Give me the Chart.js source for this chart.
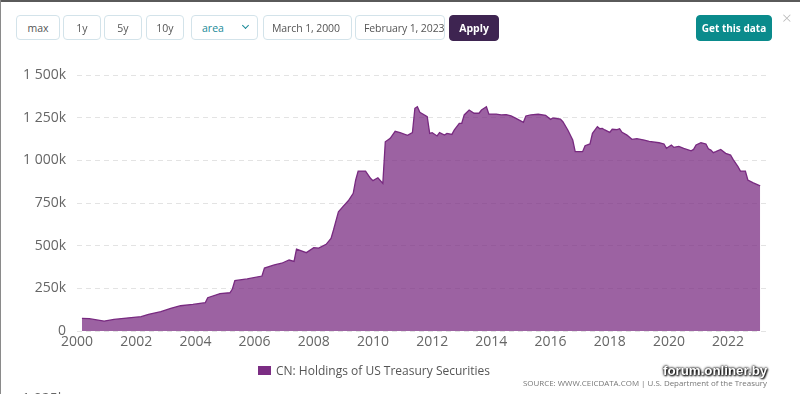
<!DOCTYPE html>
<html>
<head>
<meta charset="utf-8">
<script src="https://cdn.jsdelivr.net/npm/chart.js@4/dist/chart.umd.min.js"></script>
<style>
  html, body { margin: 0; padding: 0; }
  body { width: 800px; height: 394px; overflow: hidden; position: relative; background: #fff; font-family: "Open Sans", sans-serif; }
  #frameTop { position: absolute; left: 0; top: 0; width: 800px; height: 2px; background: #5a5a5a; }
  #frameLeft { position: absolute; left: 0; top: 0; width: 1px; height: 394px; background: #8a8a8a; }
  .btn { position: absolute; top: 15px; height: 25px; box-sizing: border-box; border: 1px solid #d3e3ea; border-radius: 4px; background: #fff;
         font-size: 10.5px; color: #555; display: flex; align-items: center; justify-content: center; white-space: nowrap; overflow: hidden; }
  .inp { justify-content: flex-start; padding-left: 8px; letter-spacing: -0.1px; }
  #apply { background: #3e2451; border-color: #3e2451; color: #fff; font-weight: bold; }
  #getdata { background: #0a8b8c; border-color: #0a8b8c; color: #fff; font-weight: bold; top: 15px; height: 26px; font-size: 10px; }
  #sel { justify-content: flex-start; padding-left: 10px; color: #1a8a98; overflow: visible; }
  #chev { position: absolute; right: 9px; top: 7px; width: 4px; height: 4px; border-right: 1.6px solid #1a8a98; border-bottom: 1.6px solid #1a8a98; transform: rotate(45deg); }
  #close { position: absolute; left: 782px; top: 6px; font-size: 17px; color: #b5b5b5; font-weight: 300; }
  #c { position: absolute; left: 0; top: 0; }
  #legend { position: absolute; left: 258px; top: 362px; display: flex; align-items: center; font-size: 12px; color: #555; }
  #legend span.box { width: 13px; height: 9px; background: rgb(123,45,131); margin-right: 5px; display: inline-block; }
  #source { position: absolute; left: 523px; top: 378px; font-size: 7.95px; color: #777; white-space: nowrap; }
  #wm { position: absolute; left: 663px; top: 363px; font-family: "Liberation Sans", Arial, sans-serif; font-weight: bold; font-size: 13.3px; color: #fff;
        text-shadow: 0 0 2px #000, 0 0 3px #000, 1px 1px 2px #000; white-space: nowrap; }
  #cut { position: absolute; left: 22px; top: 388px; font-size: 14px; color: #666; }
</style>
</head>
<body>
<canvas id="c" width="800" height="394"></canvas>
<div id="frameTop"></div>
<div id="frameLeft"></div>
<div class="btn" style="left:16px;width:44px;">max</div>
<div class="btn" style="left:63px;width:38px;">1y</div>
<div class="btn" style="left:104px;width:38px;">5y</div>
<div class="btn" style="left:146px;width:38px;">10y</div>
<div class="btn" id="sel" style="left:191px;width:67px;">area<div id="chev"></div></div>
<div class="btn inp" style="left:263px;width:89px;">March 1, 2000</div>
<div class="btn inp" style="left:355px;width:90px;">February 1, 2023</div>
<div class="btn" id="apply" style="left:449px;width:50px;height:26px;">Apply</div>
<div class="btn" id="getdata" style="left:696px;width:76px;">Get this data</div>
<div id="close">×</div>
<div id="legend"><span class="box"></span>CN: Holdings of US Treasury Securities</div>
<div id="wm">forum.onliner.by</div>
<div id="source">SOURCE: WWW.CEICDATA.COM | U.S. Department of the Treasury</div>
<div id="cut">1 025k</div>
<script>
const dates = [
  "2000-03","2000-06","2000-12","2001-04","2001-09","2002-03","2002-06","2002-11","2003-03","2003-07","2003-12",
  "2004-05","2004-06","2004-11","2005-03","2005-04","2005-05","2005-10","2006-04","2006-05","2006-09","2006-12",
  "2007-03","2007-05","2007-06","2007-10","2008-01","2008-03","2008-06","2008-08","2008-09","2008-11","2009-01",
  "2009-03","2009-05","2009-06","2009-07","2009-10","2009-12","2010-01","2010-03","2010-05","2010-06","2010-08",
  "2010-10","2010-12","2011-03","2011-05","2011-06","2011-07","2011-08","2011-11","2011-12","2012-01","2012-03",
  "2012-04","2012-06","2012-07","2012-09","2012-10","2012-12","2013-01","2013-02","2013-04","2013-06","2013-08",
  "2013-09","2013-11","2013-12","2014-03","2014-05","2014-07","2014-09","2014-11","2015-02","2015-03","2015-05",
  "2015-08","2015-11","2016-01","2016-02","2016-05","2016-06","2016-08","2016-10","2016-11","2016-12","2017-02",
  "2017-03","2017-05","2017-06","2017-08","2017-09","2017-10","2017-11","2018-01","2018-02","2018-04","2018-05",
  "2018-06","2018-08","2018-10","2018-12","2019-03","2019-05","2019-09","2019-11","2019-12","2020-02","2020-03",
  "2020-05","2020-07","2020-10","2020-11","2020-12","2021-02","2021-04","2021-05","2021-06","2021-07","2021-08",
  "2021-10","2021-12","2022-02","2022-03","2022-05","2022-06","2022-08","2022-09","2022-11","2023-02"
];
const holdings = [
  74,72,58,68,76,84,98,113,133,148,156,
  166,195,219,224,246,295,305,322,369,387,397,
  416,408,480,459,488,486,508,543,592,699,732,
  763,807,885,937,937,895,881,898,865,1109,1129,
  1170,1162,1147,1162,1305,1314,1281,1256,1158,1162,1143,
  1162,1148,1158,1152,1178,1217,1217,1266,1295,1276,1276,
  1295,1314,1271,1271,1266,1268,1260,1246,1223,1260,1266,
  1270,1264,1240,1248,1242,1226,1178,1119,1051,1051,1051,
  1086,1096,1158,1197,1185,1187,1178,1164,1182,1180,1185,
  1164,1148,1123,1127,1119,1111,1103,1096,1070,1090,1076,
  1082,1070,1056,1064,1090,1103,1096,1068,1060,1045,1051,
  1064,1041,1031,1006,963,937,937,885,869,850
];
const xTickYears = [2000,2002,2004,2006,2008,2010,2012,2014,2016,2018,2020,2022];
const yTickValues = [0,250000,500000,750000,1000000,1250000,1500000];
const seriesName = "CN: Holdings of US Treasury Securities";

function toYear(s) { const p = s.split("-"); return +p[0] + (+p[1] - 1) / 12; }
const points = dates.map((d, i) => ({ x: toYear(d), y: holdings[i] * 1000 }));

function fmt(v) {
  if (v === 0) return "0";
  const k = Math.round(v / 1000);
  return String(k).replace(/\B(?=(\d{3})+(?!\d))/g, " ") + "k";
}

new Chart(document.getElementById("c"), {
  type: "line",
  data: {
    datasets: [{
      label: seriesName,
      data: points,
      borderColor: "rgb(120,42,128)",
      backgroundColor: "rgba(123,45,131,0.75)",
      borderWidth: 1.3,
      pointRadius: 0,
      fill: "origin",
      tension: 0
    }]
  },
  options: {
    responsive: false,
    animation: false,
    layout: { padding: { top: 75, right: 34, bottom: 43, left: 0 } },
    plugins: { legend: { display: false }, tooltip: { enabled: false } },
    scales: {
      x: {
        type: "linear",
        min: 2000,
        max: 2023.28,
        grid: { display: false, drawTicks: false },
        border: { display: false },
        afterBuildTicks: s => { s.ticks = xTickYears.map(v => ({ value: v })); },
        afterFit: s => { s.height = 20; },
        ticks: { padding: 3, color: "#666", font: { family: "Open Sans", size: 14 }, maxRotation: 0, autoSkip: false,
                 callback: v => String(v) }
      },
      y: {
        min: 0,
        max: 1500000,
        afterBuildTicks: s => { s.ticks = yTickValues.map(v => ({ value: v })); },
        afterFit: s => { s.width = 77; },
        grid: { color: "#e3e3e3", lineWidth: 1, drawTicks: false },
        border: { display: false, dash: [5, 4] },
        ticks: { padding: 11, color: "#666", font: { family: "Open Sans", size: 14 }, callback: v => fmt(v) }
      }
    }
  }
});
</script>
</body>
</html>
